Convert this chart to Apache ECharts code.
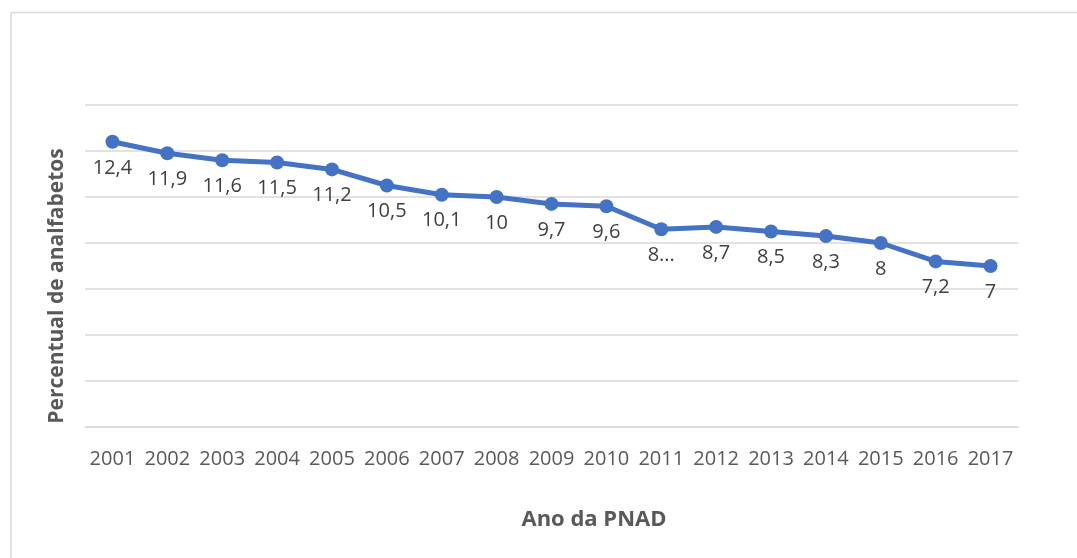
<!DOCTYPE html>
<html>
<head>
<meta charset="utf-8">
<script src="https://cdn.jsdelivr.net/npm/echarts@6/dist/echarts.min.js"></script>
<style>
  html, body { margin: 0; padding: 0; background: #fff; }
  #main { width: 1077px; height: 558px; }
</style>
</head>
<body>
<div id="main"></div>
<script>
// anos da PNAD
var years = ['2001', '2002', '2003', '2004', '2005', '2006', '2007', '2008', '2009',
  '2010', '2011', '2012', '2013', '2014', '2015', '2016', '2017'];
// percentual de analfabetos
var pct = [12.4, 11.9, 11.6, 11.5, 11.2, 10.5, 10.1, 10, 9.7, 9.6, 8.6, 8.7, 8.5, 8.3, 8, 7.2, 7];
// rótulos como aparecem no gráfico (2011 cortado)
var pctLabels = ['12,4', '11,9', '11,6', '11,5', '11,2', '10,5', '10,1', '10', '9,7',
  '9,6', '8...', '8,7', '8,5', '8,3', '8', '7,2', '7'];

var fontFam = '"Open Sans", "Noto Sans", sans-serif';

var option = {
  animation: false,
  grid: { left: 85, right: 59, top: 105, bottom: 131 },
  xAxis: {
    type: 'category',
    data: years,
    boundaryGap: true,
    axisLine: { show: true, lineStyle: { color: '#d9d9d9', width: 1.5 } },
    axisTick: { show: false },
    axisLabel: { interval: 0, color: '#595959', fontSize: 20, fontFamily: fontFam, margin: 22 }
  },
  yAxis: {
    type: 'value',
    min: 0,
    max: 14,
    interval: 2,
    axisLabel: { show: false },
    axisLine: { show: false },
    axisTick: { show: false },
    splitLine: { lineStyle: { color: '#d9d9d9', width: 1.5 } }
  },
  series: [{
    type: 'line',
    data: pct,
    symbol: 'circle',
    symbolSize: 14,
    lineStyle: { color: '#4472C4', width: 5 },
    itemStyle: { color: '#4472C4' },
    label: {
      show: true,
      position: 'bottom',
      distance: 9,
      color: '#404040',
      fontSize: 20,
      fontFamily: fontFam,
      formatter: function (p) { return pctLabels[p.dataIndex]; }
    }
  }],
  graphic: [
    { type: 'line', silent: true, shape: { x1: 11, y1: 12.5, x2: 1077, y2: 12.5 }, style: { stroke: '#d9d9d9', lineWidth: 1.5 } },
    { type: 'line', silent: true, shape: { x1: 11, y1: 12, x2: 11, y2: 558 }, style: { stroke: '#d9d9d9', lineWidth: 1.5 } },
    {
      type: 'text', x: 57, y: 286, rotation: Math.PI / 2,
      style: { text: 'Percentual de analfabetos', fill: '#595959', font: 'bold 21px ' + fontFam, align: 'center', verticalAlign: 'middle' }
    },
    {
      type: 'text', x: 594, y: 520,
      style: { text: 'Ano da PNAD', fill: '#595959', font: 'bold 22px ' + fontFam, align: 'center', verticalAlign: 'middle' }
    }
  ]
};

var chart = echarts.init(document.getElementById('main'));
chart.setOption(option);
</script>
</body>
</html>
